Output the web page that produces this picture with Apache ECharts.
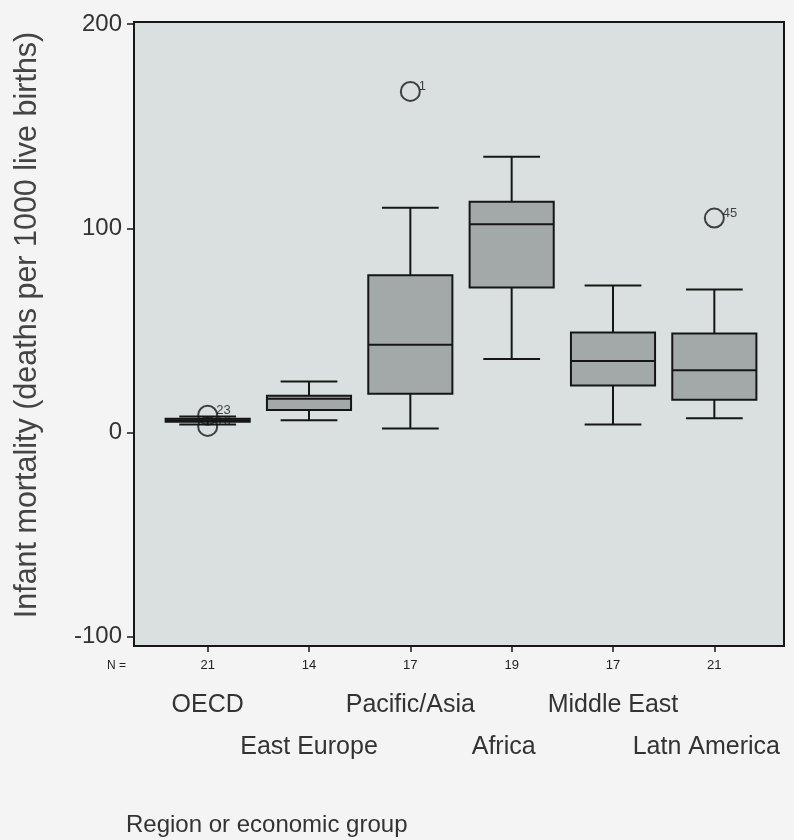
<!DOCTYPE html>
<html>
<head>
<meta charset="utf-8">
<script src="https://cdn.jsdelivr.net/npm/echarts@6/dist/echarts.min.js"></script>
<style>
  html, body { margin: 0; padding: 0; background: #f4f4f4; }
  #chart { width: 794px; height: 840px; }
</style>
</head>
<body>
<div id="chart"></div>
<script>
// ---- data ----
const categories = ['OECD', 'East Europe', 'Pacific/Asia', 'Africa', 'Middle East', 'Latn America'];
const nCounts = ['21', '14', '17', '19', '17', '21'];
// [min, Q1, median, Q3, max]
const boxMin    = [4,   6,  2,  36,  4,  7];
const boxQ1     = [5.3, 11, 19, 71,  23, 16];
const boxMedian = [6,   16.5, 43, 102, 35, 30.5];
const boxQ3     = [6.8, 18, 77, 113, 49, 48.5];
const boxMax    = [7.8, 25, 110, 135, 72, 70];
const outlierCategory = ['OECD', 'OECD', 'Pacific/Asia', 'Latn America'];
const outlierValues   = [8.5, 3, 167, 105];
const outlierLabels   = ['23', '16', '1', '45'];
const yTickValues = [-100, 0, 100, 200];

// ---- chart ----
const FONT = "'Liberation Sans', Arial, sans-serif";
const chart = echarts.init(document.getElementById('chart'), null, { renderer: 'canvas' });

const boxData = categories.map((c, i) => [i, boxMin[i], boxQ1[i], boxMedian[i], boxQ3[i], boxMax[i]]);
const outData = outlierCategory.map((c, i) => ({ value: [c, outlierValues[i]], name: outlierLabels[i] }));

const YMIN = -104.5, YMAX = 201;

function renderBox(params, api) {
  const idx = api.value(0);
  const band = api.size([1, 0])[0];
  const halfBox = band * 0.415;
  const halfCap = band * 0.28;
  const pMin = api.coord([idx, api.value(1)]);
  const pQ1 = api.coord([idx, api.value(2)]);
  const pMed = api.coord([idx, api.value(3)]);
  const pQ3 = api.coord([idx, api.value(4)]);
  const pMax = api.coord([idx, api.value(5)]);
  const cx = pMed[0];
  const stroke = { stroke: '#161616', lineWidth: 2, fill: null };
  return {
    type: 'group',
    children: [
      { type: 'line', shape: { x1: cx, y1: pMax[1], x2: cx, y2: pQ3[1] }, style: stroke },
      { type: 'line', shape: { x1: cx, y1: pQ1[1], x2: cx, y2: pMin[1] }, style: stroke },
      { type: 'line', shape: { x1: cx - halfCap, y1: pMax[1], x2: cx + halfCap, y2: pMax[1] }, style: stroke },
      { type: 'line', shape: { x1: cx - halfCap, y1: pMin[1], x2: cx + halfCap, y2: pMin[1] }, style: stroke },
      { type: 'rect', shape: { x: cx - halfBox, y: pQ3[1], width: halfBox * 2, height: pQ1[1] - pQ3[1] },
        style: { fill: '#a2a9a8', stroke: '#161616', lineWidth: 2 } },
      { type: 'line', shape: { x1: cx - halfBox, y1: pMed[1], x2: cx + halfBox, y2: pMed[1] }, style: stroke }
    ]
  };
}

const catLabelStyle = { margin: 0, fontSize: 25, color: '#333', fontFamily: FONT,
  formatter: (v, i) => (i === 3 || i === 5) ? '{s|' + v + '}' : '{n|' + v + '}',
  rich: {
    n: { fontSize: 25, color: '#333', fontFamily: FONT },
    s: { fontSize: 25, color: '#333', fontFamily: FONT, padding: [0, 16, 0, 0] }
  } };

const option = {
  backgroundColor: '#f4f4f4',
  textStyle: { fontFamily: FONT },
  animation: false,
  title: {
    text: 'Region or economic group',
    left: 121, top: 808,
    textStyle: { fontFamily: FONT, fontSize: 24, fontWeight: 'normal', color: '#333' }
  },
  graphic: [
    { type: 'text', left: 107, top: 660, style: { text: 'N =', fontFamily: FONT, fontSize: 12, fill: '#222' } }
  ],
  grid: [
    { left: 134, top: 22, width: 650, height: 624, show: true, backgroundColor: '#d9e0df',
      borderColor: '#161616', borderWidth: 2 },
    { left: 157, top: 22, width: 608, height: 624 }
  ],
  xAxis: [
    { type: 'value', gridIndex: 0, min: 0, max: 1, show: false },
    { type: 'category', gridIndex: 1, data: categories, position: 'bottom',
      axisLine: { show: false, onZero: false },
      axisTick: { show: true, alignWithLabel: true, length: 6, lineStyle: { color: '#161616', width: 1.5 } },
      axisLabel: { margin: 13, fontSize: 13, color: '#222', fontFamily: FONT,
        formatter: (v, i) => nCounts[i] } },
    { type: 'category', gridIndex: 1, data: categories, position: 'bottom', offset: 47,
      axisLine: { show: false, onZero: false }, axisTick: { show: false },
      axisLabel: Object.assign({ interval: (i) => i % 2 === 0 }, catLabelStyle) },
    { type: 'category', gridIndex: 1, data: categories, position: 'bottom', offset: 89,
      axisLine: { show: false, onZero: false }, axisTick: { show: false },
      axisLabel: Object.assign({ interval: (i) => i % 2 === 1 }, catLabelStyle) }
  ],
  yAxis: [
    { type: 'value', gridIndex: 0, min: YMIN, max: YMAX,
      name: 'Infant mortality (deaths per 1000 live births)', nameLocation: 'middle', nameGap: 91,
      nameTextStyle: { fontSize: 30.5, color: '#444', fontFamily: FONT, padding: [0, 0, 0, 18] },
      axisLine: { show: true, lineStyle: { color: '#161616', width: 2 } },
      axisTick: { show: true, length: 7, customValues: yTickValues, lineStyle: { color: '#161616', width: 1.5 } },
      axisLabel: { customValues: yTickValues, margin: 12, fontSize: 24, color: '#333', fontFamily: FONT },
      splitLine: { show: false } },
    { type: 'value', gridIndex: 1, min: YMIN, max: YMAX, show: false, splitLine: { show: false } }
  ],
  series: [
    { type: 'custom', xAxisIndex: 1, yAxisIndex: 1, renderItem: renderBox,
      encode: { x: 0, y: [1, 2, 3, 4, 5] }, data: boxData, z: 3 },
    { type: 'scatter', xAxisIndex: 1, yAxisIndex: 1, data: outData, symbol: 'circle', symbolSize: 19,
      itemStyle: { color: 'rgba(0,0,0,0)', borderColor: '#161616', borderWidth: 2 },
      label: { show: true, position: 'right', distance: -2, offset: [0, -5], formatter: (p) => p.name,
        fontSize: 13, color: '#161616', fontFamily: FONT },
      z: 4 }
  ]
};
chart.setOption(option);
</script>
</body>
</html>
